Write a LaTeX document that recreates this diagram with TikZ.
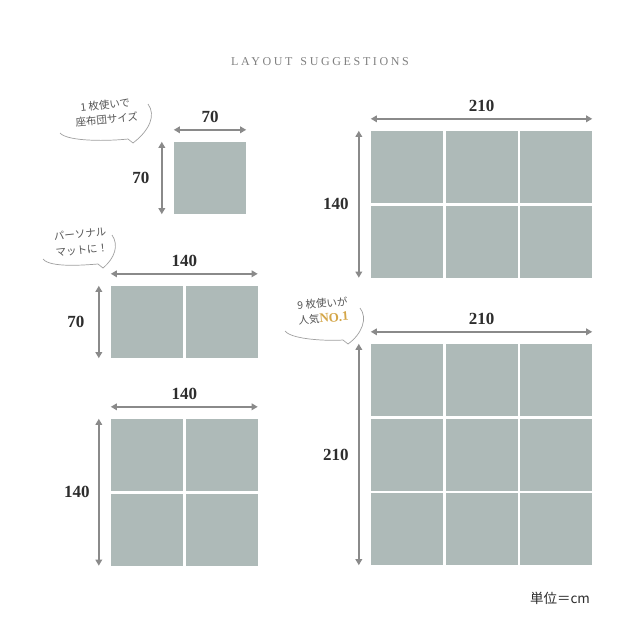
\documentclass[tikz,border=0pt]{standalone}
\usepackage{fontspec}
\setmainfont{Liberation Serif}
\newfontfamily\jpfont{Noto Sans CJK JP}
\newfontfamily\titlefont[LetterSpace=22]{Liberation Serif}
\usetikzlibrary{arrows.meta}

\definecolor{tilegray}{RGB}{174,186,184}
\definecolor{dimgray}{RGB}{138,138,138}
\definecolor{numgray}{RGB}{45,45,45}
\definecolor{bubgray}{RGB}{160,160,160}
\definecolor{jpgray}{RGB}{85,85,85}
\definecolor{gold}{RGB}{212,166,72}

\begin{document}
\begin{tikzpicture}[x=1pt, y=-1pt,
  tile/.style = {fill=tilegray, minimum size=72pt, inner sep=0pt},
  dim/.style = {draw=dimgray, line width=1.8pt,
    {Triangle[length=6pt,width=6.5pt]}-{Triangle[length=6pt,width=6.5pt]}},
  len/.style = {font=\bfseries\fontsize{17}{18}\selectfont, text=numgray},
  bubble/.style = {draw=bubgray, line width=0.7pt},
  note/.style = {align=center, text=jpgray, inner sep=1pt,
    font=\jpfont\fontsize{10.5}{15}\selectfont}]

  \fill[white] (0,0) rectangle (640,640);
  \useasboundingbox (0,0) rectangle (640,640);

  \node[font=\titlefont\fontsize{12}{14}\selectfont, text=gray] (title)
    at (320,62) {LAYOUT\kern8pt SUGGESTIONS};

  % 70 x 70
  \node[tile] (one-00) at (210,178) {};
  \draw[dim] ([yshift=12pt]one-00.north west) -- ([yshift=12pt]one-00.north east)
    node[midway, yshift=13pt, len] {70};
  \draw[dim] ([xshift=-12pt]one-00.north west) -- ([xshift=-12pt]one-00.south west)
    node[midway, xshift=-21pt, len] {70};

  % 140 x 70
  \foreach \i in {0,1}
    \node[tile] (two-\i0) at (147+74.5*\i,322) {};
  \draw[dim] ([yshift=12pt]two-00.north west) -- ([yshift=12pt]two-10.north east)
    node[midway, yshift=13pt, len] {140};
  \draw[dim] ([xshift=-12pt]two-00.north west) -- ([xshift=-12pt]two-00.south west)
    node[midway, xshift=-23pt, len] {70};

  % 140 x 140
  \foreach \i in {0,1}
    \foreach \j in {0,1}
      \node[tile] (four-\i\j) at (147+74.5*\i,455+74.5*\j) {};
  \draw[dim] ([yshift=12pt]four-00.north west) -- ([yshift=12pt]four-10.north east)
    node[midway, yshift=13pt, len] {140};
  \draw[dim] ([xshift=-12pt]four-00.north west) -- ([xshift=-12pt]four-01.south west)
    node[midway, xshift=-22pt, len] {140};

  % 210 x 140
  \foreach \i in {0,1,2}
    \foreach \j in {0,1}
      \node[tile] (six-\i\j) at (407+74.5*\i,167+74.5*\j) {};
  \draw[dim] ([yshift=12pt]six-00.north west) -- ([yshift=12pt]six-20.north east)
    node[midway, yshift=13pt, len] {210};
  \draw[dim] ([xshift=-12pt]six-00.north west) -- ([xshift=-12pt]six-01.south west)
    node[midway, xshift=-23pt, len] {140};

  % 210 x 210
  \foreach \i in {0,1,2}
    \foreach \j in {0,1,2}
      \node[tile] (nine-\i\j) at (407+74.5*\i,380+74.5*\j) {};
  \draw[dim] ([yshift=12pt]nine-00.north west) -- ([yshift=12pt]nine-20.north east)
    node[midway, yshift=13pt, len] {210};
  \draw[dim] ([xshift=-12pt]nine-00.north west) -- ([xshift=-12pt]nine-02.south west)
    node[midway, xshift=-23pt, len] {210};

  % speech notes
  \node[note, rotate=6] (note-one) at (106,112) {1 枚使いで\\座布団サイズ};
  \draw[bubble] (60,133) .. controls (68,142) and (110,141) .. (128,139)
    -- (133,143) .. controls (150,130) and (156,115) .. (148,104);

  \node[note, rotate=6, font=\jpfont\fontsize{10.5}{16}\selectfont]
    (note-two) at (81,242) {パーソナル\\マットに！};
  \draw[bubble] (43,259) .. controls (50,268) and (85,265) .. (98,264)
    -- (103,268) .. controls (115,258) and (119,245) .. (112,235);

  \node[note, rotate=4.5] (note-nine) at (323,311)
    {9 枚使いが\\人気{\rmfamily\bfseries\fontsize{13}{14}\selectfont\color{gold}NO.1}};
  \draw[bubble] (285,331) .. controls (292,340) and (330,341) .. (343,340)
    -- (348,344) .. controls (362,334) and (368,318) .. (360,308);

  \node[font=\jpfont\fontsize{13.5}{16}\selectfont, text=numgray] (unit)
    at (560,598) {単位＝cm};
\end{tikzpicture}
\end{document}
